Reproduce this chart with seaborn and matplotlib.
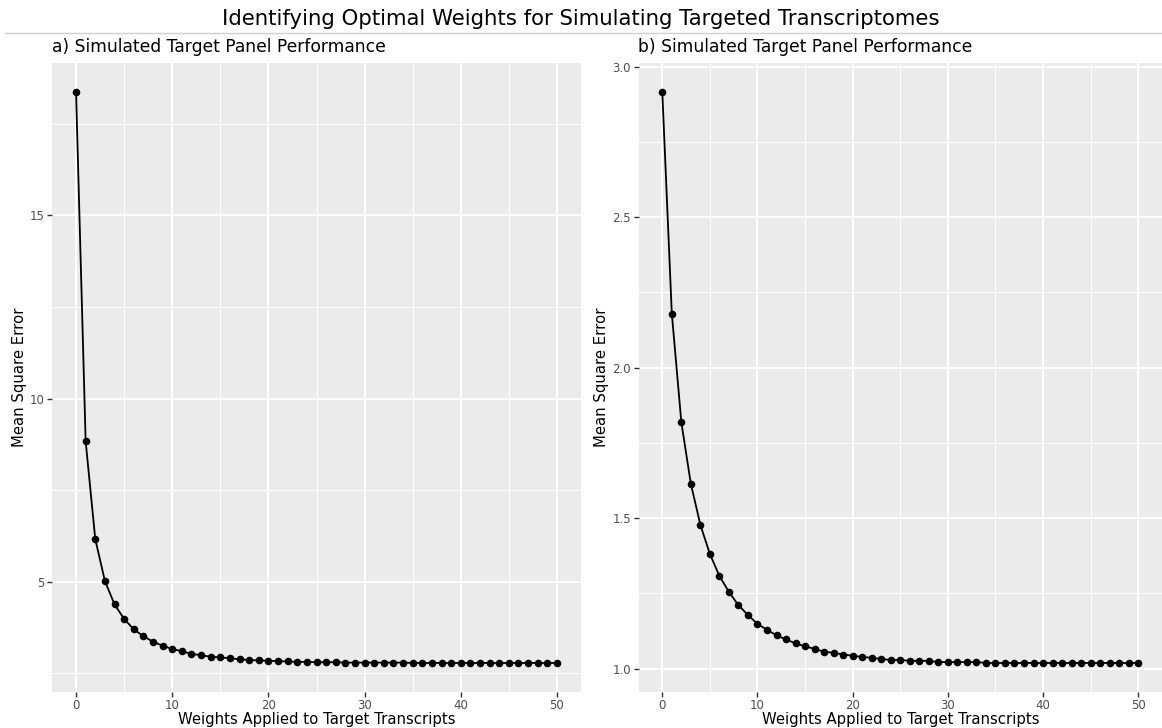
import numpy as np
import pandas as pd
import matplotlib
matplotlib.use("Agg")
import matplotlib.pyplot as plt
from matplotlib.lines import Line2D
from matplotlib.ticker import MultipleLocator, FormatStrFormatter
import seaborn as sns

# Weights applied to target transcripts
weights = list(range(51))

# Mean square error, panel a
mse_a = [18.37, 8.83, 6.16, 5.02, 4.38, 3.98, 3.70, 3.51, 3.36, 3.25,
         3.16, 3.10, 3.03, 2.99, 2.95, 2.93, 2.91, 2.88, 2.86, 2.85,
         2.84, 2.83, 2.82, 2.81, 2.81, 2.80, 2.80, 2.80, 2.79, 2.79,
         2.79, 2.79, 2.79, 2.79, 2.79, 2.78, 2.78, 2.78, 2.78, 2.78,
         2.78, 2.78, 2.78, 2.78, 2.78, 2.78, 2.78, 2.78, 2.78, 2.78,
         2.78]

# Mean square error, panel b
mse_b = [2.916, 2.180, 1.819, 1.614, 1.478, 1.381, 1.308, 1.255, 1.211, 1.178,
         1.149, 1.129, 1.111, 1.097, 1.084, 1.074, 1.066, 1.056, 1.053, 1.047,
         1.043, 1.039, 1.036, 1.032, 1.029, 1.029, 1.026, 1.026, 1.026, 1.022,
         1.022, 1.022, 1.022, 1.022, 1.019, 1.019, 1.019, 1.019, 1.019, 1.019,
         1.019, 1.019, 1.019, 1.019, 1.019, 1.019, 1.019, 1.019, 1.019, 1.019,
         1.019]

main_title = "Identifying Optimal Weights for Simulating Targeted Transcriptomes"
panel_titles = ["a) Simulated Target Panel Performance",
                "b) Simulated Target Panel Performance"]
x_label = "Weights Applied to Target Transcripts"
y_label = "Mean Square Error"

sns.set_theme(style="darkgrid", rc={
    "axes.facecolor": "#EBEBEB",
    "grid.color": "white",
    "axes.edgecolor": "#EBEBEB",
    "xtick.color": "#333333",
    "ytick.color": "#333333",
    "xtick.labelcolor": "#4D4D4D",
    "ytick.labelcolor": "#4D4D4D",
})
plt.rcParams["font.family"] = ["DejaVu Sans"]

W, H = 1162, 728
fig = plt.figure(figsize=(W / 100, H / 100), dpi=100)


def px_axes(left, right, top, bottom):
    return fig.add_axes([left / W, 1 - bottom / H, (right - left) / W, (bottom - top) / H])


ax_a = px_axes(52, 581, 63.5, 691.5)
ax_b = px_axes(638.5, 1162, 63.5, 691.5)

df_a = pd.DataFrame({"weight": weights, "mse": mse_a})
df_b = pd.DataFrame({"weight": weights, "mse": mse_b})

for ax, df, title, ymaj in [(ax_a, df_a, panel_titles[0], 5.0),
                            (ax_b, df_b, panel_titles[1], 0.5)]:
    sns.lineplot(data=df, x="weight", y="mse", ax=ax, color="black",
                 linewidth=1.3, zorder=3)
    sns.scatterplot(data=df, x="weight", y="mse", ax=ax, color="black",
                    s=30, edgecolor="black", linewidth=0, zorder=4)
    ax.margins(x=0.05, y=0.05)
    ax.xaxis.set_major_locator(MultipleLocator(10))
    ax.xaxis.set_minor_locator(MultipleLocator(5))
    ax.yaxis.set_major_locator(MultipleLocator(ymaj))
    ax.yaxis.set_minor_locator(MultipleLocator(ymaj / 2))
    ax.grid(which="major", color="white", linewidth=1.4)
    ax.grid(which="minor", color="white", linewidth=0.7)
    ax.tick_params(which="major", length=3.5, width=1.0, pad=2,
                   labelsize=8.5, bottom=True, left=True)
    ax.tick_params(which="minor", length=0)
    for s in ax.spines.values():
        s.set_visible(False)
    ax.set_xlabel(x_label, fontsize=10.7, color="black", labelpad=0)
    ax.set_ylabel(y_label, fontsize=10.7, color="black", labelpad=2)
    ax.set_title(title, loc="left", fontsize=12.3, color="black", pad=8)

ax_a.yaxis.set_major_formatter(FormatStrFormatter("%d"))
ax_b.yaxis.set_major_formatter(FormatStrFormatter("%.1f"))

fig.text(0.5, 1 - 19 / H, main_title, ha="center", va="center",
         fontsize=15.3, color="black")
fig.add_artist(Line2D([5 / W, 1.0], [1 - 32.5 / H, 1 - 32.5 / H],
                      color="#D0D0D0", linewidth=1.0))

fig.savefig("out.png", dpi=100, facecolor="white")
